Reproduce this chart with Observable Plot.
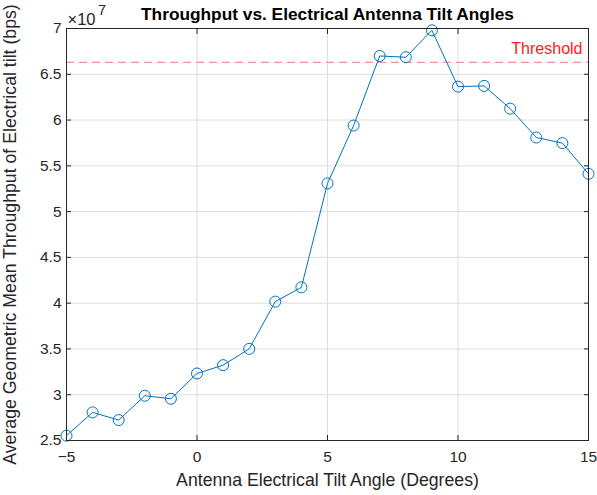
<!DOCTYPE html>
<html>
<head>
<meta charset="utf-8">
<script src="https://cdn.jsdelivr.net/npm/d3@7"></script>
<script src="https://cdn.jsdelivr.net/npm/@observablehq/plot@0.6"></script>
<style>
  html, body { margin: 0; padding: 0; background: #ffffff; }
  #chart svg { display: block; }
</style>
</head>
<body>
<div id="chart"></div>
<script>
// Electrical tilt angle (degrees) and the measured average geometric mean throughput (bps)
const tiltAngles = [-5, -4, -3, -2, -1, 0, 1, 2, 3, 4, 5, 6, 7, 8, 9, 10, 11, 12, 13, 14, 15];
const throughputE7 = [2.553, 2.807, 2.723, 2.989, 2.956, 3.232, 3.323, 3.501, 4.017, 4.173,
                      5.308, 5.940, 6.700, 6.686, 6.980, 6.365, 6.373, 6.125, 5.809, 5.748, 5.413];
const thresholdE7 = 6.631;

// Axis ticks
const xTicks = [-5, 0, 5, 10, 15];
const yTicksE7 = [2.5, 3, 3.5, 4, 4.5, 5, 5.5, 6, 6.5, 7];

const scale = 1e7;
const data = tiltAngles.map((t, i) => ({tilt: t, bps: throughputE7[i] * scale}));
const yTicks = yTicksE7.map(v => v * scale);
const threshold = thresholdE7 * scale;

const axisColor = "#262626";
const lineColor = "#0072BD";
const fmtY = d => String(+(d / scale).toFixed(1));
const tickFont = 15.5;
const labelFont = 17.7;

const chart = Plot.plot({
  width: 597,
  height: 495,
  marginLeft: 66,
  marginRight: 9,
  marginTop: 28,
  marginBottom: 55,
  style: {fontFamily: "'Liberation Sans', Arial, Helvetica, sans-serif", fontSize: "16px", color: axisColor, background: "#ffffff"},
  x: {domain: [-5, 15]},
  y: {domain: [2.5e7, 7e7]},
  marks: [
    Plot.gridX(xTicks, {stroke: "#dedede", strokeOpacity: 1}),
    Plot.gridY(yTicks, {stroke: "#dedede", strokeOpacity: 1}),
    Plot.ruleY([threshold], {stroke: "#f07878", strokeWidth: 1, strokeDasharray: "8,5"}),
    Plot.text([threshold], {y: d => d, frameAnchor: "right", textAnchor: "end", lineAnchor: "middle",
      dx: -6, dy: -13, text: () => "Threshold", fill: "#ff2020", fontSize: 16}),
    Plot.line(data, {x: "tilt", y: "bps", stroke: lineColor, strokeWidth: 1}),
    Plot.dot(data, {x: "tilt", y: "bps", r: 5.5, stroke: lineColor, strokeWidth: 1, fill: "none"}),
    Plot.frame({stroke: axisColor, strokeWidth: 1}),
    // inward tick marks on all four sides
    Plot.axisX({anchor: "bottom", ticks: xTicks, tickSize: -5, text: null, label: null, stroke: axisColor}),
    Plot.axisX({anchor: "top", ticks: xTicks, tickSize: -5, text: null, label: null, stroke: axisColor}),
    Plot.axisY({anchor: "left", ticks: yTicks, tickSize: -5, text: null, label: null, stroke: axisColor}),
    Plot.axisY({anchor: "right", ticks: yTicks, tickSize: -5, text: null, label: null, stroke: axisColor}),
    // tick labels
    Plot.axisX({anchor: "bottom", ticks: xTicks, tickSize: 0, tickPadding: 10, fontSize: tickFont, label: null}),
    Plot.axisY({anchor: "left", ticks: yTicks, tickSize: 0, tickPadding: 5, fontSize: tickFont,
      tickFormat: fmtY, label: null}),
    // axis titles
    Plot.text(["Antenna Electrical Tilt Angle (Degrees)"], {frameAnchor: "bottom", lineAnchor: "middle",
      dy: 40, fontSize: labelFont, fill: axisColor}),
    Plot.text(["Average Geometric Mean Throughput of Electrical tilt (bps)"], {frameAnchor: "left",
      textAnchor: "middle", lineAnchor: "middle", rotate: -90, dx: -56, fontSize: labelFont, fill: axisColor}),
    // exponent multiplier above the y axis
    Plot.text(["×10"], {frameAnchor: "top-left", textAnchor: "start", lineAnchor: "middle",
      dx: 1, dy: -8.5, fontSize: 16.5, fill: axisColor}),
    Plot.text(["7"], {frameAnchor: "top-left", textAnchor: "start", lineAnchor: "middle",
      dx: 31.5, dy: -18.5, fontSize: 14.5, fill: axisColor}),
    // title
    Plot.text(["Throughput vs. Electrical Antenna Tilt Angles"], {frameAnchor: "top", lineAnchor: "middle",
      dy: -14, fontSize: 17.3, fontWeight: "bold", fill: "#000000"})
  ]
});

document.getElementById("chart").append(chart);
</script>
</body>
</html>
